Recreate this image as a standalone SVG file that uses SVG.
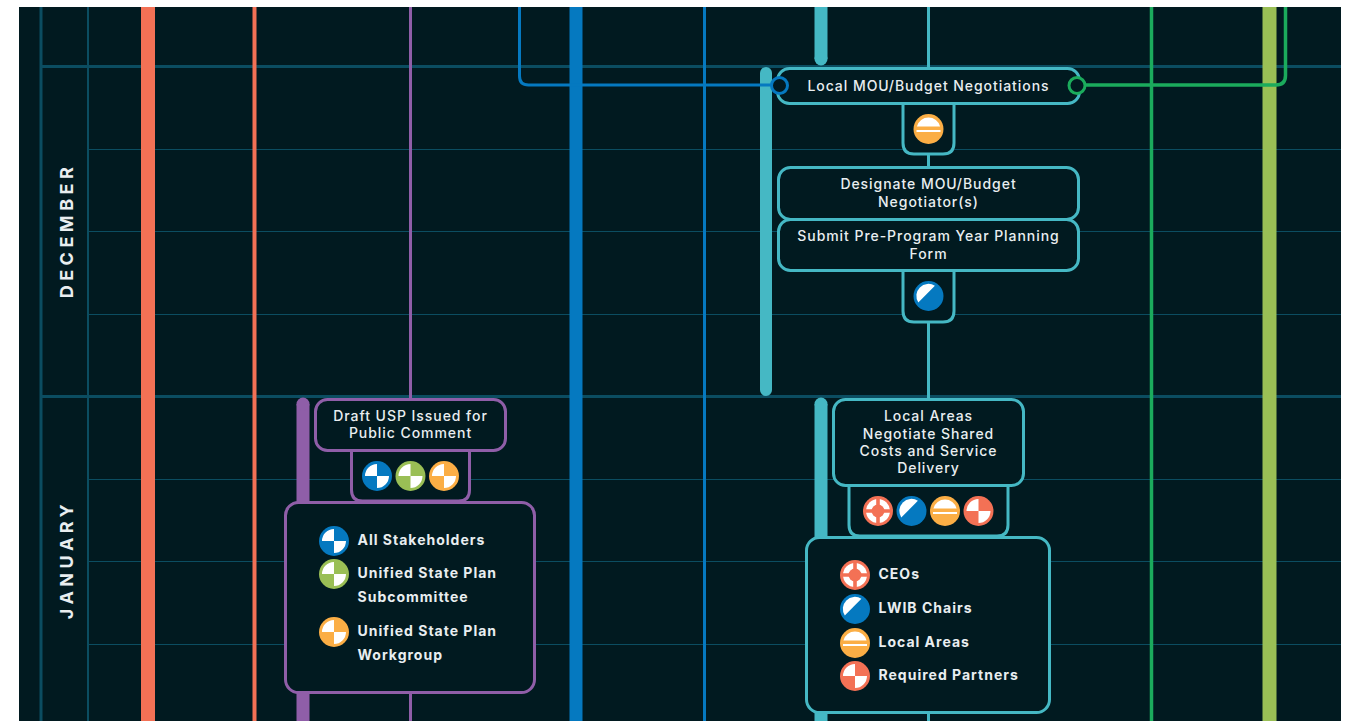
<svg xmlns="http://www.w3.org/2000/svg" width="1353" height="721" viewBox="0 0 1353 721">
<style>
text{font-family:"Inter","Liberation Sans",sans-serif;fill:#e9eef0}
.t{font-size:14px;font-weight:500;text-anchor:middle;letter-spacing:.95px}
.l{font-size:14px;font-weight:700;letter-spacing:1px}
.m{font-size:18px;font-weight:700;letter-spacing:4.5px;text-anchor:middle}
.g{stroke:#0b4d61;fill:none}
.box{fill:#011a20;stroke-width:3}
.te{stroke:#45b8c4}.pu{stroke:#8f5ea8}
.w{fill:#fff}
</style>
<defs>
<path id="quarter" class="w" d="M0 0H-12A12 12 0 0 1 0 -12ZM0 0H12A12 12 0 0 1 0 12Z"/>
<g id="stake"><circle r="15" fill="#0579c0"/><use href="#quarter"/></g>
<g id="sub"><circle r="15" fill="#9abf55"/><use href="#quarter"/></g>
<g id="work"><circle r="15" fill="#fbae45"/><use href="#quarter"/></g>
<g id="req"><circle r="15" fill="#f37155"/><use href="#quarter"/></g>
<g id="chair"><circle r="15" fill="#0579c0"/><path class="w" d="M-10.200 6.400A12 12 0 0 1 6.400 -10.200Z"/></g>
<g id="local"><circle r="15" fill="#fbae45"/><path class="w" d="M-11.600 -2.500A12 12 0 0 1 11.600 -2.500ZM-12 1H12V3H-12Z"/></g>
<g id="ceo"><circle r="15" fill="#f37155"/><circle r="12" class="w"/><path fill="#f37155" d="M-1.800 -12.500H1.800V12.500H-1.800ZM-12.500 -1.800H12.500V1.800H-12.500Z"/><circle r="6.500" fill="#f37155"/></g>
</defs>
<rect width="1353" height="721" fill="#fff"/>
<rect x="19" y="7" width="1322" height="714" fill="#011a20"/>
<g id="grid">
<path class="g" stroke-width="3" d="M41 7V721M41 66.500H1341M41 396.500H1341"/>
<path class="g" stroke-width="2" d="M88 7V721"/>
<path class="g" stroke-width="1" d="M88 149.500H1341M88 231.500H1341M88 314.500H1341M88 479.500H1341M88 561.500H1341M88 644.500H1341"/>
</g>
<g id="connectors" fill="none">
<path stroke="#f37155" stroke-width="14" d="M148 7V721"/>
<path stroke="#f37155" stroke-width="4" d="M254.500 7V721"/>
<path stroke="#8f5ea8" stroke-width="3" d="M410.500 7V400M410.500 690V721"/>
<path stroke="#0579c0" stroke-width="13" d="M576 7V721"/>
<path stroke="#0579c0" stroke-width="3" d="M704.500 7V721"/>
<path stroke="#45b8c4" stroke-width="13" d="M821 7V59"/>
<circle cx="821" cy="59" r="6.500" fill="#45b8c4"/>
<path stroke="#45b8c4" stroke-width="3" d="M928.500 7V70M928.500 150V170M928.500 320V400M928.500 710V721"/>
<path stroke="#1bab5c" stroke-width="3.500" d="M1151.500 7V721"/>
<path stroke="#9abf55" stroke-width="14" d="M1269.500 7V721"/>
<path stroke="#45b8c4" stroke-width="12" stroke-linecap="round" d="M766 73V390"/>
<path stroke="#8f5ea8" stroke-width="13" d="M303 404V721"/>
<circle cx="303" cy="404" r="6.500" fill="#8f5ea8"/>
<path stroke="#45b8c4" stroke-width="13" d="M821 404V721"/>
<circle cx="821" cy="404" r="6.500" fill="#45b8c4"/>
<path stroke="#0579c0" stroke-width="3" d="M519.500 7V76Q519.500 85 528.500 85H772"/>
<path stroke="#1bab5c" stroke-width="3.500" d="M1085 85H1276Q1285.500 85 1285.500 75.500V7"/>
</g>
<g id="node-mou">
<path class="box te" d="M903 100V143Q903 154 914 154H943Q954 154 954 143V100Z"/>
<rect class="box te" x="777.500" y="68.500" width="302" height="35" rx="12"/>
<text class="t" x="928.500" y="91">Local MOU/Budget Negotiations</text>
<use href="#local" x="928.500" y="129"/>
<circle cx="779.500" cy="85.500" r="8" fill="#011a20" stroke="#0579c0" stroke-width="3"/>
<circle cx="1077" cy="85.500" r="8" fill="#011a20" stroke="#1bab5c" stroke-width="3"/>
</g>
<g id="node-designate">
<rect class="box te" x="778.500" y="167.500" width="300" height="52" rx="12"/>
<text class="t" x="928.500" y="189">Designate MOU/Budget</text>
<text class="t" x="928.500" y="207">Negotiator(s)</text>
</g>
<g id="node-submit">
<path class="box te" d="M903 268V311Q903 322 914 322H943Q954 322 954 311V268Z"/>
<rect class="box te" x="778.500" y="219.500" width="300" height="51" rx="12"/>
<text class="t" x="928.500" y="241">Submit Pre-Program Year Planning</text>
<text class="t" x="928.500" y="259">Form</text>
<use href="#chair" x="928.500" y="296"/>
</g>
<g id="node-draft">
<path class="box pu" d="M351.500 448V490Q351.500 501 362.500 501H458.500Q469.500 501 469.500 490V448Z"/>
<rect class="box pu" x="315.500" y="399.500" width="190" height="51" rx="12"/>
<text class="t" x="410.500" y="421">Draft USP Issued for</text>
<text class="t" x="410.500" y="438">Public Comment</text>
<use href="#stake" x="377" y="476"/>
<use href="#sub" x="410.500" y="476"/>
<use href="#work" x="444" y="476"/>
</g>
<g id="legend-usp">
<rect class="box pu" x="285.500" y="502.500" width="249" height="190" rx="13"/>
<use href="#stake" x="334" y="541"/>
<text class="l" x="357.500" y="544.500">All Stakeholders</text>
<use href="#sub" x="334" y="574"/>
<text class="l" x="357.500" y="578">Unified State Plan</text>
<text class="l" x="357.500" y="601.500">Subcommittee</text>
<use href="#work" x="334" y="632"/>
<text class="l" x="357.500" y="636">Unified State Plan</text>
<text class="l" x="357.500" y="659.500">Workgroup</text>
</g>
<g id="node-areas">
<path class="box te" d="M849 482V525Q849 536 860 536H997Q1008 536 1008 525V482Z"/>
<rect class="box te" x="833.500" y="399.500" width="190" height="86" rx="12"/>
<text class="t" x="928.500" y="421">Local Areas</text>
<text class="t" x="928.500" y="439">Negotiate Shared</text>
<text class="t" x="928.500" y="456">Costs and Service</text>
<text class="t" x="928.500" y="473">Delivery</text>
<use href="#ceo" x="878" y="511"/>
<use href="#chair" x="911.500" y="511"/>
<use href="#local" x="945" y="511"/>
<use href="#req" x="978.500" y="511"/>
</g>
<g id="legend-areas">
<rect class="box te" x="806.500" y="537.500" width="243" height="175" rx="13"/>
<use href="#ceo" x="855" y="575"/>
<text class="l" x="878.500" y="579">CEOs</text>
<use href="#chair" x="855" y="609"/>
<text class="l" x="878.500" y="613">LWIB Chairs</text>
<use href="#local" x="855" y="643"/>
<text class="l" x="878.500" y="647">Local Areas</text>
<use href="#req" x="855" y="676"/>
<text class="l" x="878.500" y="680">Required Partners</text>
</g>
<g id="months">
<text class="m" transform="translate(73 230.500) rotate(-90)">DECEMBER</text>
<text class="m" transform="translate(73 559.500) rotate(-90)">JANUARY</text>
</g>
</svg>
